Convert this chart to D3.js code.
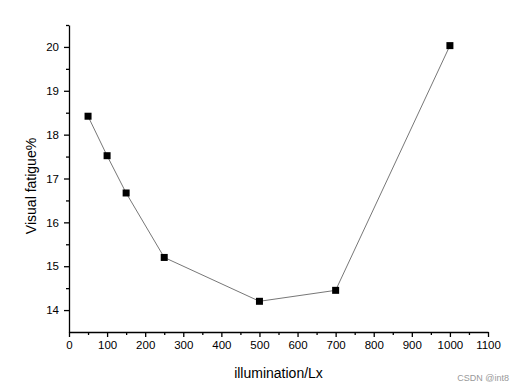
<!DOCTYPE html>
<html lang="en">
  <head>
    <meta charset="UTF-8" />
    <title>Visual fatigue vs illumination</title>
    <script src="https://d3js.org/d3.v7.min.js"></script>
    <style>
      body { margin: 0; background: #fff; }
      svg { display: block; font-family: "Liberation Sans", Arial, sans-serif; }
      .axis text { font-size: 11.5px; fill: #000; }
      .axis path, .axis line { stroke: #000; stroke-width: 1.3; }
    </style>
  </head>
  <body>
    <svg width="512" height="390"></svg>
    <script>
      // data
      const illumination = [50, 100, 150, 250, 500, 700, 1000];
      const fatigue = [18.42, 17.52, 16.67, 15.2, 14.2, 14.45, 20.03];
      const xTicks = d3.range(0, 1101, 100);
      const yTicks = [14, 15, 16, 17, 18, 19, 20];

      const svg = d3.select("svg");
      const mLeft = 69, mRight = 488, mTop = 25, mBottom = 332;

      const x = d3.scaleLinear().domain([0, 1100]).range([mLeft, mRight]);
      const y = d3.scaleLinear().domain([13.5, 20.5]).range([mBottom, mTop]);

      // minor ticks first
      svg.append("g")
        .attr("class", "axis")
        .attr("transform", `translate(0,${mBottom})`)
        .call(d3.axisBottom(x).tickValues(d3.range(50, 1100, 100)).tickSize(3).tickFormat(""))
        .call(g => g.select(".domain").remove());
      svg.append("g")
        .attr("class", "axis")
        .attr("transform", `translate(${mLeft},0)`)
        .call(d3.axisLeft(y).tickValues(d3.range(14.5, 20.6, 1)).tickSize(3).tickFormat(""))
        .call(g => g.select(".domain").remove());

      // major axes
      svg.append("g")
        .attr("class", "axis")
        .attr("transform", `translate(0,${mBottom})`)
        .call(d3.axisBottom(x).tickValues(xTicks).tickSize(5).tickSizeOuter(0)
          .tickPadding(4).tickFormat(d3.format("d")));
      svg.append("g")
        .attr("class", "axis")
        .attr("transform", `translate(${mLeft},0)`)
        .call(d3.axisLeft(y).tickValues(yTicks).tickSize(5).tickSizeOuter(0)
          .tickPadding(5).tickFormat(d3.format("d")));

      const pts = illumination.map((d, i) => [d, fatigue[i]]);

      svg.append("path")
        .datum(pts)
        .attr("fill", "none")
        .attr("stroke", "#777")
        .attr("stroke-width", 1)
        .attr("d", d3.line().x(d => x(d[0])).y(d => y(d[1])));

      svg.append("g")
        .selectAll("rect")
        .data(pts)
        .join("rect")
        .attr("x", d => x(d[0]) - 3.5)
        .attr("y", d => y(d[1]) - 3.5)
        .attr("width", 7)
        .attr("height", 7)
        .attr("fill", "#000");

      svg.append("text")
        .attr("x", (mLeft + mRight) / 2)
        .attr("y", 378)
        .attr("text-anchor", "middle")
        .attr("font-size", 14)
        .text("illumination/Lx");

      svg.append("text")
        .attr("transform", `translate(36,186) rotate(-90)`)
        .attr("text-anchor", "middle")
        .attr("font-size", 14)
        .text("Visual fatigue%");

      svg.append("text")
        .attr("x", 509)
        .attr("y", 381)
        .attr("text-anchor", "end")
        .attr("font-size", 9)
        .attr("fill", "#999")
        .text("CSDN @int8");
    </script>
  </body>
</html>
